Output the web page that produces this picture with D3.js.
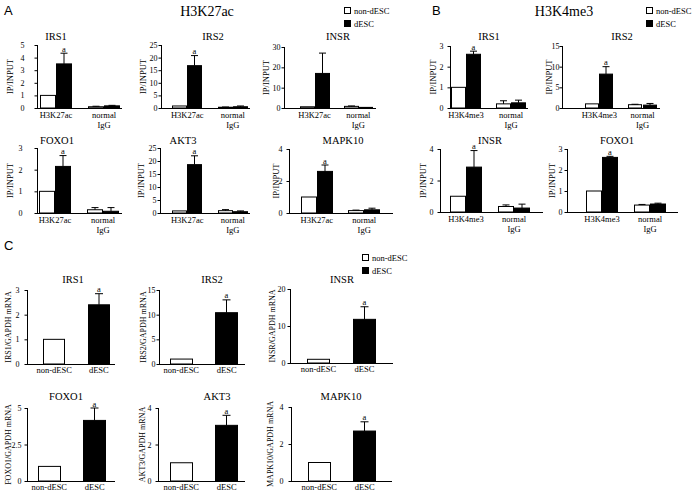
<!DOCTYPE html>
<html><head><meta charset="utf-8">
<script src="https://cdn.jsdelivr.net/npm/d3@7"></script>
<style>
body{margin:0;background:#fff}
svg{display:block}
</style>
</head><body>
<svg id="c" width="693" height="491"></svg>
<script>
// ---------------- DATA ----------------
const seriesNames = ["non-dESC", "dESC"];
const chipGroupsA = ["H3K27ac", "normal IgG"];
const chipGroupsB = ["H3K4me3", "normal IgG"];
const mrnaGroups = ["non-dESC", "dESC"];

// Panel A (H3K27ac ChIP): per gene [H3K27ac, normal IgG]
const aGenes = ["IRS1", "IRS2", "INSR", "FOXO1", "AKT3", "MAPK10"];
const aNonMean = [[1.0, 0.1], [0.8, 0.3], [0.6, 0.8], [1.0, 0.15], [0.8, 0.9], [1.0, 0.15]];
const aNonErr  = [[0, 0.04], [0, 0.1], [0, 0.2], [0, 0.1], [0, 0.4], [0, 0.03]];
const aDMean   = [[3.5, 0.17], [16.8, 0.5], [17.0, 0.3], [2.15, 0.08], [18.6, 0.5], [2.6, 0.2]];
const aDErr    = [[0.85, 0.04], [4.0, 0.3], [10.0, 0], [0.5, 0.17], [3.4, 0.3], [0.4, 0.1]];
const aYMax    = [5, 25, 30, 3, 25, 4];
const aTicks   = [[0,1,2,3,4,5], [0,5,10,15,20,25], [0,10,20,30], [0,1,2,3], [0,5,10,15,20,25], [0,2,4]];
const aSig     = [true, true, false, true, true, true];

// Panel B (H3K4me3 ChIP)
const bGenes = ["IRS1", "IRS2", "INSR", "FOXO1"];
const bNonMean = [[1.0, 0.2], [1.0, 0.8], [1.0, 0.35], [1.0, 0.33]];
const bNonErr  = [[0, 0.15], [0, 0.1], [0, 0.1], [0, 0.03]];
const bDMean   = [[2.6, 0.25], [8.2, 0.7], [2.85, 0.25], [2.6, 0.38]];
const bDErr    = [[0.15, 0.13], [1.8, 0.4], [1.05, 0.25], [0.05, 0.04]];
const bYMax    = [3, 15, 4, 3];
const bTicks   = [[0,1,2,3], [0,5,10,15], [0,2,4], [0,1,2,3]];
const bSig     = [true, true, true, true];

// Panel C (mRNA / GAPDH)
const cGenes = ["IRS1", "IRS2", "INSR", "FOXO1", "AKT3", "MAPK10"];
const cNonMean = [1, 1, 1, 1, 1, 1];
const cNonErr  = [0, 0, 0, 0, 0, 0];
const cDMean   = [2.4, 10.4, 11.8, 4.15, 3.05, 2.7];
const cDErr    = [0.45, 2.6, 3.4, 0.85, 0.55, 0.5];
const cYMax    = [3, 15, 20, 5, 4, 4];
const cTicks   = [[0,1,2,3], [0,5,10,15], [0,10,20], [0,2.5,5], [0,2,4], [0,2,4]];
const cSig     = [true, true, true, true, true, true];

// ---------------- LAYOUT ----------------
const aLayout = [
  {ax:37,  end:122, top:45,  bot:108, bl:40,  br:120, tx:56,  ty:40,  lx:10,  tp:10},
  {ax:161, end:250, top:45,  bot:108, bl:172, br:248, tx:213, ty:40,  lx:143, tp:1},
  {ax:284, end:376, top:47,  bot:108, bl:300, br:373, tx:338, ty:40,  lx:266, tp:1},
  {ax:37,  end:122, top:148, bot:213, bl:39,  br:119, tx:57,  ty:144, lx:10,  tp:12},
  {ax:160, end:250, top:148, bot:213, bl:172, br:248, tx:183, ty:144, lx:141, tp:1},
  {ax:289, end:393, top:149, bot:213, bl:301, br:380, tx:343, ty:144, lx:276, tp:4}
];
const bLayout = [
  {ax:450, end:528, top:46,  bot:108, bl:451, br:526, tx:489, ty:40,  lx:433, tp:4},
  {ax:562, end:660, top:46,  bot:108, bl:585, br:657, tx:622, ty:40,  lx:549, tp:0},
  {ax:440, end:543, top:149, bot:212, bl:450, br:530, tx:490, ty:144, lx:423, tp:4},
  {ax:567, end:678, top:149, bot:212, bl:586, br:666, tx:617, ty:144, lx:552, tp:2}
];
const cLayout = [
  {ax:27,  end:115, top:290, bot:364, bl:43,  br:110, tx:73,  ty:283, lx:8,   tp:5},
  {ax:159, end:245, top:290, bot:364, bl:170, br:238, tx:212, ty:283, lx:143, tp:1},
  {ax:290, end:393, top:289, bot:363, bl:307, br:376, tx:342, ty:283, lx:272, tp:2},
  {ax:27,  end:115, top:408, bot:481, bl:38,  br:106, tx:66,  ty:400, lx:8,   tp:3},
  {ax:158, end:245, top:408, bot:481, bl:170, br:238, tx:217, ty:400, lx:142, tp:4},
  {ax:291, end:392, top:407, bot:481, bl:308, br:376, tx:341, ty:400, lx:270, tp:5}
];

const SERIF = '"Liberation Serif","Times New Roman",serif';
const SANS = '"Liberation Sans",Arial,sans-serif';
const fills = {"non-dESC": "#ffffff", "dESC": "#000000"};
const svg = d3.select("#c");

function txt(parent, x, y, s, size, anchor) {
  return parent.append("text").attr("x", x).attr("y", y).attr("font-family", SERIF)
    .attr("font-size", size).attr("fill", "#000").attr("text-anchor", anchor || "start").text(s);
}

function drawPanel(L, cfg) {
  const g = svg.append("g");
  const y = d3.scaleLinear().domain([0, cfg.yMax]).range([L.bot, L.top]);
  const xg = d3.scaleBand().domain(cfg.groups).range([L.bl, L.br])
    .paddingInner(cfg.pi).paddingOuter(0);
  const xs = d3.scaleBand().domain(cfg.series).range([0, xg.bandwidth()]);

  // y axis
  const yAxis = d3.axisLeft(y).tickValues(cfg.ticks).tickSize(3).tickPadding(L.tp)
    .tickFormat(d => String(d));
  const ya = g.append("g").attr("transform", `translate(${L.ax + 0.5},0)`).call(yAxis);
  ya.attr("font-family", SERIF).attr("font-size", cfg.tickFont);
  ya.select(".domain").attr("stroke", "#000").attr("d", `M0,${L.top}V${L.bot}`);
  ya.selectAll(".tick line").attr("stroke", "#000");
  ya.selectAll(".tick text").attr("fill", "#000");

  // x axis line (from y-axis to the chart end)
  g.append("line").attr("x1", L.ax).attr("x2", L.end)
    .attr("y1", L.bot + 0.5).attr("y2", L.bot + 0.5).attr("stroke", "#000");

  // bars with upward error bars
  const bars = g.append("g");
  cfg.bars.forEach(b => {
    const x0 = xg(b.group) + xs(b.series);
    const w = xs.bandwidth();
    bars.append("rect").attr("x", Math.round(x0) + 0.5).attr("y", y(b.v))
      .attr("width", Math.round(w) - 1).attr("height", Math.max(0, y(0) - y(b.v)))
      .attr("fill", b.fill || fills[b.series]).attr("stroke", "#000").attr("stroke-width", 1);
    const cx = Math.round(x0) + Math.round(w) / 2;
    if (b.e > 0) {
      bars.append("line").attr("x1", cx).attr("x2", cx)
        .attr("y1", y(b.v)).attr("y2", y(b.v + b.e)).attr("stroke", "#000");
      bars.append("line").attr("x1", cx - cfg.cap).attr("x2", cx + cfg.cap)
        .attr("y1", y(b.v + b.e)).attr("y2", y(b.v + b.e)).attr("stroke", "#000");
    }
    if (b.sig) txt(bars, cx, y(b.v + b.e) - 1.5, "a", cfg.sigFont, "middle");
  });

  // category labels
  cfg.groups.forEach((grp, i) => {
    const cx = xg(grp) + xg.bandwidth() / 2;
    cfg.groupLines[i].forEach((t, j) => {
      txt(g, cx, L.bot + cfg.catDy + j * 10, t, cfg.catFont, "middle");
    });
  });

  // title
  txt(g, L.tx, L.ty, cfg.title, cfg.titleFont, "middle");

  // y label
  const ym = (L.top + L.bot) / 2;
  txt(g, 0, 0, cfg.ylabel, cfg.ylabFont, "middle")
    .attr("transform", `translate(${L.lx},${ym}) rotate(-90)`).attr("dy", "0.35em");
}

function chipBars(nonM, nonE, dM, dE, groups, sig) {
  const out = [];
  groups.forEach((gname, gi) => {
    out.push({group: gname, series: seriesNames[0], v: nonM[gi], e: nonE[gi], sig: false});
    out.push({group: gname, series: seriesNames[1], v: dM[gi], e: dE[gi], sig: sig && gi === 0});
  });
  return out;
}

const chipStyle = {cap: 3.5, tickFont: 8, catFont: 8.5, titleFont: 10.5, ylabFont: 8.5, sigFont: 8.5, catDy: 10};
aGenes.forEach((gene, i) => {
  drawPanel(aLayout[i], Object.assign({
    title: gene, yMax: aYMax[i], ticks: aTicks[i], groups: chipGroupsA,
    groupLines: [["H3K27ac"], ["normal", "IgG"]], series: seriesNames, pi: 1/3,
    bars: chipBars(aNonMean[i], aNonErr[i], aDMean[i], aDErr[i], chipGroupsA, aSig[i]),
    ylabel: "IP/INPUT"
  }, chipStyle));
});
bGenes.forEach((gene, i) => {
  drawPanel(bLayout[i], Object.assign({
    title: gene, yMax: bYMax[i], ticks: bTicks[i], groups: chipGroupsB,
    groupLines: [["H3K4me3"], ["normal", "IgG"]], series: seriesNames, pi: 1/3,
    bars: chipBars(bNonMean[i], bNonErr[i], bDMean[i], bDErr[i], chipGroupsB, bSig[i]),
    ylabel: "IP/INPUT"
  }, chipStyle));
});
cGenes.forEach((gene, i) => {
  drawPanel(cLayout[i], {
    title: gene, yMax: cYMax[i], ticks: cTicks[i], groups: mrnaGroups,
    groupLines: [["non-dESC"], ["dESC"]], series: ["one"], pi: 0.5,
    bars: [
      {group: mrnaGroups[0], series: "one", fill: fills[mrnaGroups[0]], v: cNonMean[i], e: cNonErr[i], sig: false},
      {group: mrnaGroups[1], series: "one", fill: fills[mrnaGroups[1]], v: cDMean[i], e: cDErr[i], sig: cSig[i]}
    ],
    ylabel: gene + "/GAPDH mRNA", cap: 4, tickFont: 8, catFont: 8.5, titleFont: 10.5,
    ylabFont: 8, sigFont: 8.5, catDy: 9
  });
});

// Legends
function legend(x, y) {
  const lg = svg.append("g").attr("transform", `translate(${x},${y})`);
  seriesNames.forEach((s, i) => {
    lg.append("rect").attr("x", 0.5).attr("y", i * 13 + 0.5).attr("width", 6).attr("height", 6)
      .attr("fill", fills[s]).attr("stroke", "#000");
    txt(lg, 10, i * 13 + 6.5, s, 8.5);
  });
}
legend(344, 7);
legend(646, 7);
legend(362, 254);

// Panel letters and group titles
[["A", 4, 15], ["B", 432, 15], ["C", 4, 250]].forEach(([s, x, y]) => {
  svg.append("text").attr("x", x).attr("y", y).attr("font-family", SANS)
    .attr("font-size", 13).attr("fill", "#000").text(s);
});
txt(svg, 207, 16, "H3K27ac", 14, "middle");
txt(svg, 564, 16, "H3K4me3", 14, "middle");
</script>
</body></html>
